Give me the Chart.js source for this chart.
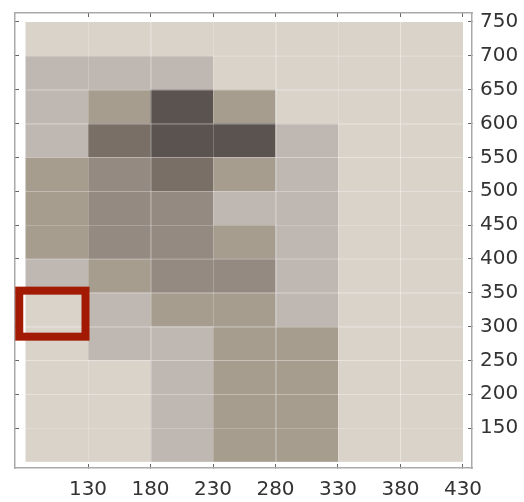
<!DOCTYPE html>
<html>
<head>
<meta charset="utf-8">
<script src="https://cdn.jsdelivr.net/npm/chart.js@4/dist/chart.umd.min.js"></script>
<style>
  html, body { margin: 0; padding: 0; background: #ffffff; }
  canvas { display: block; }
</style>
</head>
<body>
<canvas id="heat" width="524" height="502"></canvas>
<script>
// Tick labels
const xTickValues = [130, 180, 230, 280, 330, 380, 430];
const yTickValues = [150, 200, 250, 300, 350, 400, 450, 500, 550, 600, 650, 700, 750];

// Bin edges of the grid
const xBinEdges = [80, 130, 180, 230, 280, 330, 380, 430];
const yBinEdges = [100, 150, 200, 250, 300, 350, 400, 450, 500, 550, 600, 650, 700, 750];

// Shade level of each cell; rows run from the 700–750 bin down to the 100–150 bin,
// columns from the 80–130 bin to the 380–430 bin.
const cellLevels = [
  [0, 0, 0, 0, 0, 0, 0],
  [1, 1, 1, 0, 0, 0, 0],
  [1, 2, 5, 2, 0, 0, 0],
  [1, 4, 5, 5, 1, 0, 0],
  [2, 3, 4, 2, 1, 0, 0],
  [2, 3, 3, 1, 1, 0, 0],
  [2, 3, 3, 2, 1, 0, 0],
  [1, 2, 3, 3, 1, 0, 0],
  [0, 1, 2, 2, 1, 0, 0],
  [0, 1, 1, 2, 2, 0, 0],
  [0, 0, 1, 2, 2, 0, 0],
  [0, 0, 1, 2, 2, 0, 0],
  [0, 0, 1, 2, 2, 0, 0]
];

// Highlighted region, in axis units
const highlightX = [75, 128];
const highlightY = [285, 353];

// Palette for the shade levels
const shades = ['#d9d3ca', '#bfb7b2', '#a69d8f', '#958a82', '#7a6f66', '#5a534f'];

const heatmapCells = {
  id: 'heatmapCells',
  beforeDatasetsDraw(chart) {
    const { ctx } = chart;
    const xs = chart.scales.x;
    const ys = chart.scales.y;
    const nRows = cellLevels.length;
    ctx.save();
    cellLevels.forEach((row, r) => {
      const yTop = ys.getPixelForValue(yBinEdges[nRows - r]);
      const yBot = ys.getPixelForValue(yBinEdges[nRows - r - 1]);
      row.forEach((lvl, c) => {
        const x0 = xs.getPixelForValue(xBinEdges[c]);
        const x1 = xs.getPixelForValue(xBinEdges[c + 1]);
        ctx.fillStyle = shades[lvl];
        ctx.fillRect(x0, yTop, x1 - x0, yBot - yTop);
      });
    });
    // faint seams between cells
    const left = xs.getPixelForValue(xBinEdges[0]);
    const right = xs.getPixelForValue(xBinEdges[xBinEdges.length - 1]);
    const top = ys.getPixelForValue(yBinEdges[yBinEdges.length - 1]);
    const bottom = ys.getPixelForValue(yBinEdges[0]);
    ctx.strokeStyle = 'rgba(255,255,255,0.2)';
    ctx.lineWidth = 1;
    ctx.beginPath();
    xBinEdges.slice(1, -1).forEach(v => {
      const px = Math.round(xs.getPixelForValue(v)) + 0.5;
      ctx.moveTo(px, top); ctx.lineTo(px, bottom);
    });
    yBinEdges.slice(1, -1).forEach(v => {
      const py = Math.round(ys.getPixelForValue(v)) + 0.5;
      ctx.moveTo(left, py); ctx.lineTo(right, py);
    });
    ctx.stroke();
    ctx.restore();
  },
  afterDatasetsDraw(chart) {
    const { ctx } = chart;
    const xs = chart.scales.x;
    const ys = chart.scales.y;
    const x0 = xs.getPixelForValue(highlightX[0]);
    const x1 = xs.getPixelForValue(highlightX[1]);
    const y0 = ys.getPixelForValue(highlightY[1]);
    const y1 = ys.getPixelForValue(highlightY[0]);
    ctx.save();
    ctx.strokeStyle = '#a31a04';
    ctx.lineWidth = 8;
    ctx.strokeRect(x0, y0, x1 - x0, y1 - y0);
    ctx.restore();
  }
};

const tickFont = { family: 'DejaVu Sans', size: 20 };
const gridStyle = { drawOnChartArea: false, drawTicks: true, tickLength: -4, color: '#666666', lineWidth: 1 };
const borderStyle = { display: true, color: '#a9a9a9', width: 1.5 };
const X_MIN = 71.6, X_MAX = 437.2, Y_MIN = 90.9, Y_MAX = 763.3;

// fixed axis band sizes, with no extra label overhang padding
function fixBand(size) {
  return s => {
    if (s.isHorizontal()) { s.height = size; } else { s.width = size; }
    s.paddingTop = 0; s.paddingBottom = 0; s.paddingLeft = 0; s.paddingRight = 0;
  };
}

new Chart(document.getElementById('heat'), {
  type: 'scatter',
  data: { datasets: [] },
  options: {
    responsive: false,
    animation: false,
    devicePixelRatio: 1,
    layout: { padding: 0 },
    plugins: { legend: { display: false }, tooltip: { enabled: false } },
    scales: {
      x: {
        type: 'linear', position: 'bottom', min: X_MIN, max: X_MAX, bounds: 'data',
        afterBuildTicks: s => { s.ticks = xTickValues.map(v => ({ value: v })); },
        afterFit: fixBand(34),
        ticks: { font: tickFont, color: '#333333', padding: 14, maxRotation: 0, autoSkip: false },
        grid: gridStyle, border: borderStyle
      },
      xTop: {
        type: 'linear', position: 'top', min: X_MIN, max: X_MAX, bounds: 'data',
        afterBuildTicks: s => { s.ticks = xTickValues.map(v => ({ value: v })); },
        afterFit: fixBand(13),
        ticks: { display: false },
        grid: gridStyle, border: borderStyle
      },
      y: {
        type: 'linear', position: 'right', min: Y_MIN, max: Y_MAX, bounds: 'data',
        afterBuildTicks: s => { s.ticks = yTickValues.map(v => ({ value: v })); },
        afterFit: fixBand(52),
        ticks: { font: tickFont, color: '#333333', padding: 12, autoSkip: false },
        grid: gridStyle, border: borderStyle
      },
      yLeft: {
        type: 'linear', position: 'left', min: Y_MIN, max: Y_MAX, bounds: 'data',
        afterBuildTicks: s => { s.ticks = yTickValues.map(v => ({ value: v })); },
        afterFit: fixBand(15),
        ticks: { display: false },
        grid: gridStyle, border: borderStyle
      }
    }
  },
  plugins: [heatmapCells]
});
</script>
</body>
</html>
